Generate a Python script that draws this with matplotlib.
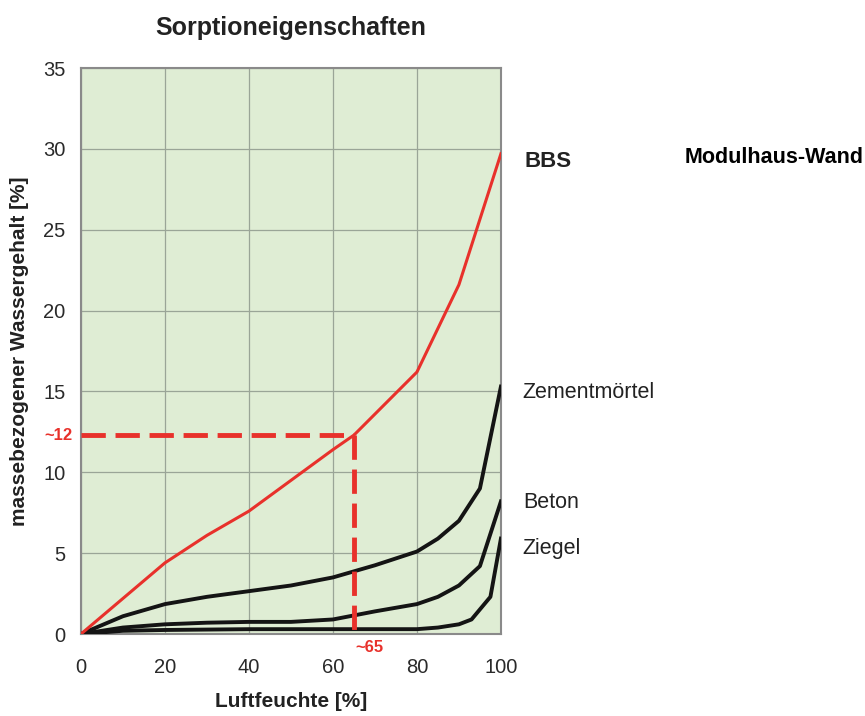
import matplotlib
matplotlib.use("Agg")
import matplotlib.pyplot as plt

plt.rcParams['font.family'] = ['Liberation Sans', 'DejaVu Sans']

# relative humidity [%] and mass-related water content [%]
bbs_x = [0, 20, 30, 40, 50, 60, 65, 70, 80, 90, 100]
bbs_y = [0, 4.4, 6.1, 7.6, 9.5, 11.4, 12.3, 13.6, 16.2, 21.6, 29.7]

zement_x = [0, 10, 20, 30, 40, 50, 60, 70, 80, 85, 90, 95, 100]
zement_y = [0, 1.1, 1.85, 2.3, 2.65, 3.0, 3.5, 4.25, 5.1, 5.9, 7.0, 9.0, 15.3]

beton_x = [0, 10, 20, 30, 40, 50, 60, 70, 80, 85, 90, 95, 100]
beton_y = [0, 0.4, 0.6, 0.7, 0.75, 0.75, 0.9, 1.4, 1.85, 2.3, 3.0, 4.2, 8.2]

ziegel_x = [0, 10, 20, 40, 60, 80, 85, 90, 93, 97.5, 100]
ziegel_y = [0, 0.2, 0.25, 0.3, 0.3, 0.3, 0.4, 0.6, 0.9, 2.3, 5.9]

mark_x = 65
mark_y = 12.3

red = '#e8312b'

fig = plt.figure(figsize=(8.65, 7.16), dpi=100)
ax = fig.add_axes([0.0936, 0.1145, 0.4855, 0.7905])
ax.set_facecolor('#dfedd4')

ax.plot(zement_x, zement_y, color='#141414', lw=2.8, zorder=3)
ax.plot(beton_x, beton_y, color='#141414', lw=2.8, zorder=3)
ax.plot(ziegel_x, ziegel_y, color='#141414', lw=2.8, zorder=3)
ax.plot(bbs_x, bbs_y, color=red, lw=2.2, zorder=4)

# reading lines at ~65 % / ~12 %
ax.plot([0, mark_x], [mark_y, mark_y], color=red, lw=3.5, dashes=(5, 2), zorder=4)
ax.plot([mark_x, mark_x], [mark_y, 0], color=red, lw=3.5, dashes=(5, 2), zorder=4)

ax.set_xlim(0, 100)
ax.set_ylim(0, 35)
ax.set_xticks([0, 20, 40, 60, 80, 100])
ax.set_yticks([0, 5, 10, 15, 20, 25, 30, 35])
ax.grid(True, color='#9aa597', lw=0.9)
ax.set_axisbelow(True)
ax.tick_params(length=0, labelsize=14.5, colors='#2a2a2a')
ax.tick_params(axis='x', pad=17)
ax.tick_params(axis='y', pad=11)
for s in ax.spines.values():
    s.set_color('#8a8a8a')
    s.set_linewidth(1.5)

ax.text(-2.1, mark_y, '~12', color=red, fontsize=12, fontweight='bold',
        ha='right', va='center')
ax.text(mark_x + 0.3, -0.4, '~65', color=red, fontsize=12, fontweight='bold',
        ha='left', va='top')

ax.set_xlabel('Luftfeuchte [%]', fontsize=15, fontweight='bold', labelpad=11,
              color='#222222')
ax.set_ylabel('massebezogener Wassergehalt [%]', fontsize=15, fontweight='bold',
              labelpad=10, color='#222222')
ax.set_title('Sorptioneigenschaften', fontsize=18, fontweight='bold', pad=24,
             color='#222222')

ax.text(105.5, 28.9, 'BBS', fontsize=16, fontweight='bold', va='baseline',
        clip_on=False, color='#222222')
ax.text(143.8, 29.1, 'Modulhaus-Wand', fontsize=15.5, fontweight='bold',
        va='baseline', clip_on=False)
ax.text(105.2, 14.6, 'Zementmörtel', fontsize=15.5, va='baseline', clip_on=False,
        color='#222222')
ax.text(105.2, 7.8, 'Beton', fontsize=15.5, va='baseline', clip_on=False,
        color='#222222')
ax.text(105.2, 4.95, 'Ziegel', fontsize=15.5, va='baseline', clip_on=False,
        color='#222222')

fig.savefig('out.png', dpi=100, facecolor='white')
